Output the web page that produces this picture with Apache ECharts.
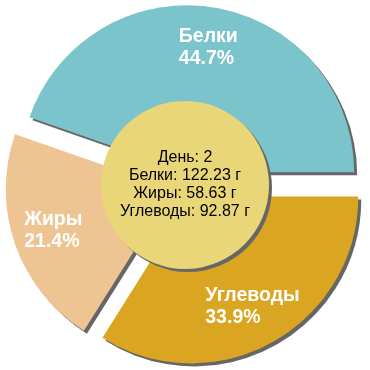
<!DOCTYPE html>
<html>
<head>
<meta charset="utf-8">
<script src="https://cdn.jsdelivr.net/npm/echarts@6/dist/echarts.min.js"></script>
<style>html,body{margin:0;padding:0;background:#fff}#c{width:370px;height:370px}</style>
</head>
<body>
<div id="c"></div>
<script>
const categories = ['Белки', 'Жиры', 'Углеводы'];
const values = [122.23, 58.63, 92.87];
const colors = ['#7bc4cc', '#eec592', '#daa520'];
const dayLabel = 'День';
const dayValue = 2;
const unit = 'г';

const chart = echarts.init(document.getElementById('c'), null, {renderer: 'canvas'});
const shadow = {shadowBlur: 0, shadowOffsetX: 3, shadowOffsetY: 3, shadowColor: '#666'};
const sliceData = categories.map((c, i) => ({
  name: c, value: values[i], selected: true,
  itemStyle: Object.assign({color: colors[i]}, shadow)
}));
const labelData = categories.map((c, i) => ({
  name: c, value: values[i], selected: true,
  itemStyle: {color: 'rgba(0,0,0,0)'}
}));
const centerText = [dayLabel + ': ' + dayValue]
  .concat(categories.map((c, i) => c + ': ' + values[i].toFixed(2) + ' ' + unit))
  .join('\n');

chart.setOption({
  animation: false,
  series: [
    {
      type: 'pie', center: ['50%', '50%'], radius: [0, 167],
      startAngle: 0, clockwise: false,
      selectedMode: 'multiple', selectedOffset: 13,
      label: {show: false}, labelLine: {show: false},
      emphasis: {disabled: true}, silent: true,
      data: sliceData, z: 1
    },
    {
      type: 'pie', center: ['50%', '50%'], radius: [0, 84],
      label: {
        show: true, position: 'center', formatter: centerText,
        color: '#000', fontSize: 16, lineHeight: 18,
        fontFamily: 'Liberation Sans, Arial, sans-serif'
      },
      labelLine: {show: false}, emphasis: {disabled: true}, silent: true,
      itemStyle: Object.assign({color: '#e9d678'}, shadow),
      data: [{name: dayLabel, value: 1}], z: 2
    },
    {
      type: 'pie', center: ['50%', '50%'], radius: [80, 167],
      startAngle: 0, clockwise: false,
      selectedMode: 'multiple', selectedOffset: 13,
      label: {
        show: true, position: 'inside',
        formatter: '{a|{b}}\n{a|{d}%}',
        rich: {a: {align: 'left', color: '#fff', fontSize: 19.5, fontWeight: 'bold', lineHeight: 22,
                   fontFamily: 'Liberation Sans, Arial, sans-serif'}}
      },
      percentPrecision: 1,
      labelLine: {show: false}, emphasis: {disabled: true}, silent: true,
      data: labelData, z: 3
    }
  ]
});
</script>
</body>
</html>
